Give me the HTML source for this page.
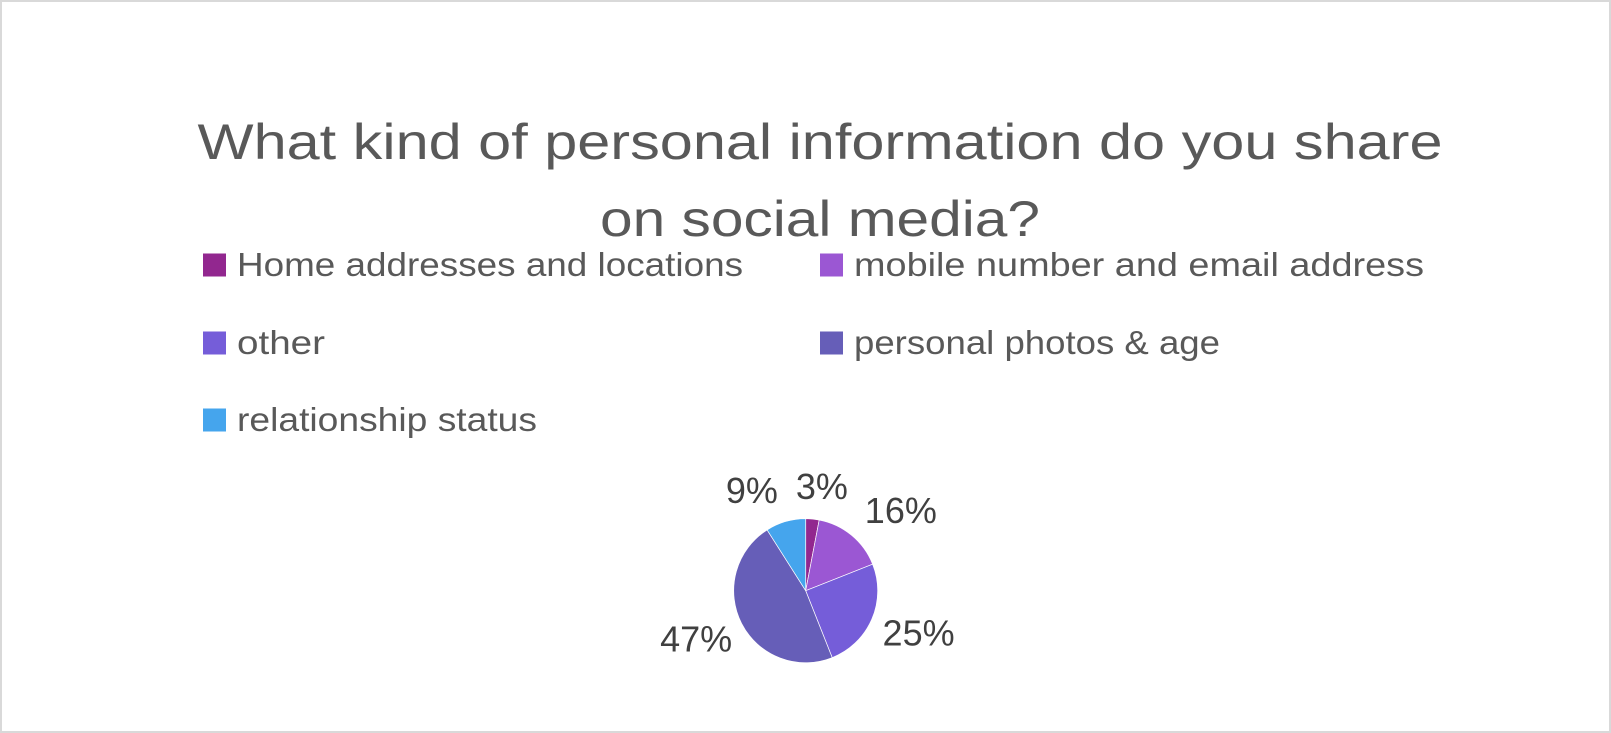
<!DOCTYPE html>
<html><head><meta charset="utf-8"><style>
html,body{margin:0;padding:0;background:#fff;}
svg{display:block;font-family:"Liberation Sans",sans-serif;}
</style></head><body>
<svg id="chart" width="1611" height="733" viewBox="0 0 1611 733">
<rect x="1" y="1" width="1609" height="731" fill="#fff" stroke="#d9d9d9" stroke-width="2"/>
<g fill="#595959" font-size="50" text-anchor="middle">
<text x="820" y="159" textLength="1245" lengthAdjust="spacingAndGlyphs">What kind of personal information do you share</text>
<text x="820" y="236" textLength="440" lengthAdjust="spacingAndGlyphs">on social media?</text>
</g>
<g id="legend"></g>
<g id="pie"></g>
<g id="labels"></g>
</svg>
<script>
const categories = ["Home addresses and locations","mobile number and email address","other","personal photos & age","relationship status"];
const values = [3,16,25,47,9];
const colors = ["#92278f","#9b57d3","#755dd9","#665eb8","#45a5ed"];
const NS="http://www.w3.org/2000/svg";
const cx=805.7, cy=590.7, r=72;
const total=values.reduce((a,b)=>a+b,0);
const legendPos=[[203,265,506],[820,265,570],[203,343,88],[820,343,366],[203,420,300]];
const lg=document.getElementById('legend');
categories.forEach((c,i)=>{
  const [x,y,w]=legendPos[i];
  const g=document.createElementNS(NS,'g');
  
  
  const s=document.createElementNS(NS,'rect');
  s.setAttribute('x',x);s.setAttribute('y',y-11.5);s.setAttribute('width',23);s.setAttribute('height',23);s.setAttribute('fill',colors[i]);
  
  
  const t=document.createElementNS(NS,'text');
  t.setAttribute('x',x+34);t.setAttribute('y',y+11);t.setAttribute('font-size','33');t.setAttribute('fill','#595959');
  t.setAttribute('textLength',w);t.setAttribute('lengthAdjust','spacingAndGlyphs');
  
  
  t.textContent=c;
  g.appendChild(s);g.appendChild(t);lg.appendChild(g);
});
const pie=document.getElementById('pie');
const lab=document.getElementById('labels');
let a0=0;
const labs=[];
values.forEach((v,i)=>{
  const a1=a0+v/total*2*Math.PI;
  const x0=cx+r*Math.sin(a0),y0=cy-r*Math.cos(a0),x1=cx+r*Math.sin(a1),y1=cy-r*Math.cos(a1);
  const p=document.createElementNS(NS,'path');
  p.setAttribute('d',`M${cx},${cy}L${x0},${y0}A${r},${r} 0 ${a1-a0>Math.PI?1:0} 1 ${x1},${y1}Z`);
  p.setAttribute('fill',colors[i]);p.setAttribute('stroke','#fff');p.setAttribute('stroke-width','0.7');
  
  
  pie.appendChild(p);
  const am=(a0+a1)/2, s=Math.sin(am), c=Math.cos(am);
  const txt=Math.round(v/total*100)+'%';
  const w=txt.length*20+6, h=30, d=18;
  labs.push({txt,w,x:cx+(r+d)*s+s*w/2, y:cy-(r+d)*c-c*h/2});
  a0=a1;
});
// resolve overlaps
for(let k=0;k<3;k++){
  for(let i=0;i<labs.length;i++)for(let j=i+1;j<labs.length;j++){
    const A=labs[i],B=labs[j];
    if(Math.abs(A.y-B.y)<30){
      const L=A.x<B.x?A:B, R=A.x<B.x?B:A;
      const need=(L.w+R.w)/2+24-(R.x-L.x);
      if(need>0){L.x-=need/2;R.x+=need/2;}
    }
  }
}
labs.forEach(l=>{
  const t=document.createElementNS(NS,'text');
  t.setAttribute('x',l.x);t.setAttribute('y',l.y+13);t.setAttribute('text-anchor','middle');
  t.setAttribute('font-size','36');t.setAttribute('fill','#404040');
  
  
  t.textContent=l.txt;
  lab.appendChild(t);
});
</script>
</body></html>
